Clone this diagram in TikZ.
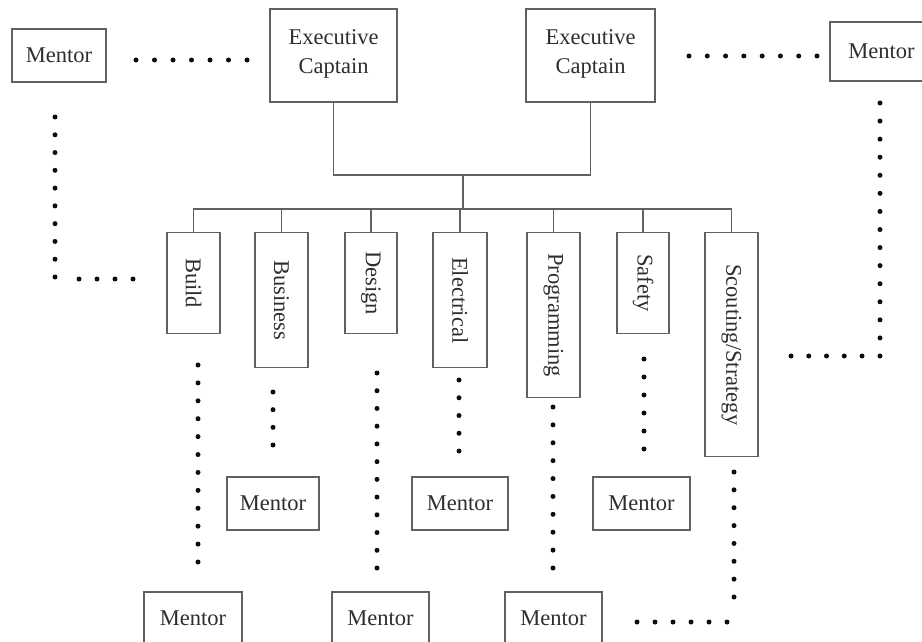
\documentclass[tikz,border=0pt]{standalone}
\usepackage{fontspec}
\setmainfont{Liberation Serif}
\usetikzlibrary{calc}
\definecolor{ln}{gray}{0.38}
\definecolor{tx}{gray}{0.18}
\definecolor{dt}{gray}{0.05}
\newcommand\dotrow[3]{%
  \foreach \i in {1,...,#3} {\fill[dt] ($(#1)!{(\i-1)/(#3-1)}!(#2)$) circle (2.5pt);}}
\tikzset{
  box/.style={draw=ln, line width=1.3pt, rectangle, inner sep=0pt, text=tx,
    font=\fontsize{22.5}{29}\selectfont, align=center},
  mentor/.style={box, minimum height=53pt},
  dept/.style={box, rotate=-90, anchor=west},
  tree/.style={draw=ln, line width=1.3pt}
}
\begin{document}
\begin{tikzpicture}[x=1pt,y=-1pt]
\useasboundingbox (0,0) rectangle (922,642);
\clip (0,0) rectangle (922,642);
% top row
\node[mentor, minimum width=94pt] (mtl) at (59,55.5) {Mentor};
\node[box, minimum width=127pt, minimum height=93pt] (ec1) at (333.5,55.5) {Executive\\Captain\rule[-8pt]{0pt}{8pt}};
\node[box, minimum width=129pt, minimum height=93pt] (ec2) at (590.5,55.5) {Executive\\Captain\rule[-8pt]{0pt}{8pt}};
\node[box, minimum width=103pt, minimum height=59pt] (mtr) at (881.5,51.5) {Mentor};
% departments
\node[dept, minimum width=101pt, minimum height=53pt] (build) at (193.5,232) {Build};
\node[dept, minimum width=135pt, minimum height=53pt] (business) at (281.5,232) {Business};
\node[dept, minimum width=101pt, minimum height=52pt] (design) at (371,232) {Design};
\node[dept, minimum width=135pt, minimum height=54pt] (electrical) at (460,232) {Electrical};
\node[dept, minimum width=165pt, minimum height=53pt] (programming) at (553.5,232) {Programming};
\node[dept, minimum width=101pt, minimum height=52pt] (safety) at (643,232) {Safety};
\node[dept, minimum width=224pt, minimum height=53pt] (scouting) at (731.5,232) {Scouting/Strategy};
% middle mentors
\node[mentor, minimum width=92pt] (mbus) at (273,503.5) {Mentor};
\node[mentor, minimum width=96pt] (melec) at (460,503.5) {Mentor};
\node[mentor, minimum width=97pt] (msafe) at (641.5,503.5) {Mentor};
% bottom mentors
\node[mentor, minimum width=98pt] (mbuild) at (193,618.5) {Mentor};
\node[mentor, minimum width=97pt] (mdesign) at (380.5,618.5) {Mentor};
\node[mentor, minimum width=97pt] (mprog) at (553.5,618.5) {Mentor};
% tree connectors
\coordinate (t1) at (463,175);
\coordinate (t2) at (463,209);
\draw[tree] (ec1.south) |- (t1) -| (ec2.south);
\draw[tree] (t1) -- (t2);
\draw[tree] (build.west) |- (t2) -| (scouting.west);
\foreach \n in {business,design,electrical,programming,safety}
  \draw[tree] (\n.west) -- (\n.west |- t2);
% dotted connectors
\coordinate (a1) at (136,60);  \coordinate (a2) at (247,60);
\coordinate (b1) at (689,56);  \coordinate (b2) at (817,56);
\coordinate (c1) at (55,117);  \coordinate (c2) at (55,277);
\coordinate (c3) at (79,279);  \coordinate (c4) at (133,279);
\coordinate (d1) at (880,103); \coordinate (d2) at (880,356);
\coordinate (d3) at (791,356); \coordinate (d4) at (862,356);
\coordinate (e1) at (198,365); \coordinate (e2) at (198,562);
\coordinate (f1) at (273,392); \coordinate (f2) at (273,445);
\coordinate (g1) at (377,373); \coordinate (g2) at (377,568);
\coordinate (h1) at (459,380); \coordinate (h2) at (459,451);
\coordinate (i1) at (553,407); \coordinate (i2) at (553,568);
\coordinate (j1) at (644,359); \coordinate (j2) at (644,449);
\coordinate (k1) at (734,472); \coordinate (k2) at (734,597);
\coordinate (k3) at (637,622); \coordinate (k4) at (727,622);
\dotrow{a1}{a2}{7}
\dotrow{b1}{b2}{8}
\dotrow{c1}{c2}{10}
\dotrow{c3}{c4}{4}
\dotrow{d1}{d2}{15}
\dotrow{d3}{d4}{5}
\dotrow{e1}{e2}{12}
\dotrow{f1}{f2}{4}
\dotrow{g1}{g2}{12}
\dotrow{h1}{h2}{5}
\dotrow{i1}{i2}{10}
\dotrow{j1}{j2}{6}
\dotrow{k1}{k2}{8}
\dotrow{k3}{k4}{6}
\end{tikzpicture}
\end{document}
